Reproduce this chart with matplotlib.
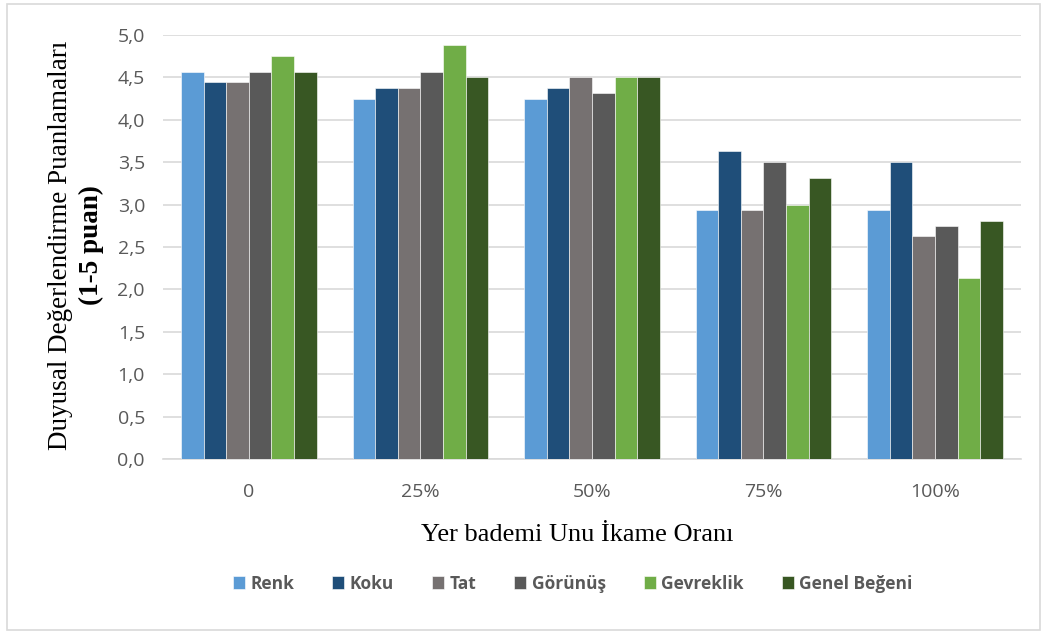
import numpy as np
import matplotlib.pyplot as plt
from matplotlib.patches import Rectangle
from matplotlib.ticker import FuncFormatter

categories = ["0", "25%", "50%", "75%", "100%"]
series_names = ["Renk", "Koku", "Tat", "Görünüş", "Gevreklik", "Genel Beğeni"]
renk = [4.56, 4.25, 4.25, 2.94, 2.94]
koku = [4.44, 4.38, 4.38, 3.63, 3.50]
tat = [4.44, 4.38, 4.50, 2.94, 2.63]
gorunus = [4.56, 4.56, 4.31, 3.50, 2.75]
gevreklik = [4.75, 4.88, 4.50, 3.00, 2.13]
genel = [4.56, 4.50, 4.50, 3.31, 2.81]
colors = ["#5B9BD5", "#1F4E79", "#767171", "#595959", "#70AD47", "#385723"]

series = [renk, koku, tat, gorunus, gevreklik, genel]

fig = plt.figure(figsize=(10.47, 6.35), dpi=100)
ax = fig.add_axes([0.1557, 0.277, 0.8193, 0.668])

# kenarlik
fig.patches.append(Rectangle((0.007, 0.008), 0.986, 0.985, transform=fig.transFigure,
                             fill=False, edgecolor="#D9D9D9", linewidth=1.2))

x = np.arange(len(categories))
n = len(series)
bw = 0.79 / n
for i, (vals, name, c) in enumerate(zip(series, series_names, colors)):
    offs = (i - (n - 1) / 2) * bw
    ax.bar(x + offs, vals, width=bw, color=c, edgecolor="white", linewidth=0.4,
           label=name, zorder=3)

ax.set_xlim(-0.5, len(categories) - 0.5)
ax.set_ylim(0, 5)
ax.set_yticks(np.arange(0, 5.01, 0.5))
ax.yaxis.set_major_formatter(FuncFormatter(lambda v, p: f"{v:.1f}".replace(".", ",")))
ax.set_xticks(x)
ax.set_xticklabels(categories)
ax.grid(axis="y", color="#D9D9D9", linewidth=1.2, zorder=0)
for s in ["top", "right", "left"]:
    ax.spines[s].set_visible(False)
ax.spines["bottom"].set_color("#D9D9D9")
ax.spines["bottom"].set_linewidth(1.2)
ax.tick_params(axis="y", length=0, pad=13, labelsize=14, labelcolor="#595959")
ax.tick_params(axis="x", length=0, pad=17, labelsize=14, labelcolor="#595959")
for lab in ax.get_xticklabels() + ax.get_yticklabels():
    lab.set_family("Open Sans")

fig.text(0.551, 0.157, "Yer bademi Unu İkame Oranı", family="Liberation Serif",
         fontsize=19, ha="center", va="center")
fig.text(0.058, 0.614, "Duyusal Değerlendirme Puanlamaları", rotation=90,
         family="Liberation Serif", fontsize=19.5, ha="center", va="center")
fig.text(0.087, 0.614, "(1-5 puan)", rotation=90, family="Liberation Serif",
         fontsize=19.5, fontweight="bold", ha="center", va="center")

leg = fig.legend(loc="center", bbox_to_anchor=(0.547, 0.081), ncol=6, frameon=False,
                 handlelength=0.7, handleheight=0.7, handletextpad=0.3,
                 columnspacing=2.2, prop={"family": "Open Sans", "weight": "bold", "size": 12.5})
for t in leg.get_texts():
    t.set_color("#595959")

fig.savefig("out.png", dpi=100)
